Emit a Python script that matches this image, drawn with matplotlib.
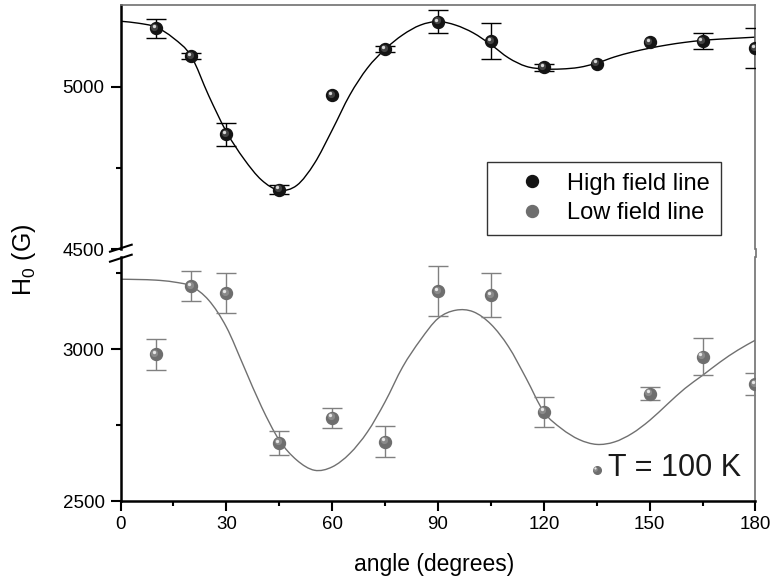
import matplotlib
matplotlib.use("Agg")
import matplotlib.pyplot as plt
import matplotlib.transforms as mtransforms
import numpy as np
from matplotlib.lines import Line2D
from matplotlib.path import Path
from matplotlib.patches import PathPatch

plt.rcParams['font.family'] = ['Liberation Sans', 'DejaVu Sans']
plt.rcParams['mathtext.default'] = 'regular'

# measured resonance fields (G) vs. field angle (degrees)
angles = [10, 20, 30, 45, 60, 75, 90, 105, 120, 135, 150, 165, 180]
high_field = [5180, 5095, 4854, 4684, 4974, 5116, 5200, 5140, 5060, 5071, 5137, 5141, 5119]
high_err = [29, 10, 35, 14, 0, 10, 35, 55, 10, 0, 0, 25, 62]
low_field = [2983, 3207, 3185, 2692, 2775, 2696, 3191, 3178, 2794, 2603, 2854, 2975, 2885]
low_err = [50, 49, 67, 40, 33, 51, 83, 72, 50, 0, 21, 61, 36]

# fitted angular dependence
fit_angles = [0, 5, 10, 15, 20, 25, 30, 35, 40, 45, 50, 55, 60, 65, 70, 75, 80, 85, 90,
              95, 100, 105, 110, 115, 120, 125, 130, 135, 140, 145, 150, 155, 160, 165,
              170, 175, 180]
high_fit = [5202, 5196, 5184, 5150, 5095, 4973, 4862, 4778, 4713, 4682, 4697, 4765, 4867,
            4975, 5058, 5116, 5160, 5190, 5201, 5190, 5166, 5130, 5089, 5063, 5055, 5055,
            5060, 5073, 5092, 5107, 5119, 5129, 5137, 5143, 5147, 5150, 5153]
low_fit = [3230, 3229, 3227, 3221, 3207, 3161, 3073, 2942, 2810, 2701, 2635, 2602, 2613,
           2657, 2728, 2827, 2942, 3030, 3101, 3128, 3123, 3082, 3008, 2904, 2794, 2739,
           2703, 2687, 2695, 2723, 2766, 2819, 2871, 2914, 2958, 2997, 3030]

W, H = 773, 584
fig = plt.figure(figsize=(W / 100, H / 100), dpi=100)


def fx(px):
    return px / W


def fy(py):
    return 1 - py / H


left, right = 120.5, 755.5
ax_hi = fig.add_axes([fx(left), fy(249.3), fx(right - left), (249.3 - 5.3) / H])
ax_lo = fig.add_axes([fx(left), fy(501.3), fx(right - left), (501.3 - 257) / H])

ax_hi.set_ylim(4500, 5251)
ax_lo.set_ylim(2500, 3303)
for ax in (ax_hi, ax_lo):
    ax.set_xlim(0, 180)
    ax.spines['left'].set_linewidth(1.8)
    ax.spines['right'].set_color('#707070')
    ax.spines['right'].set_linewidth(1.2)
    ax.tick_params(axis='both', which='major', direction='out', length=7.5, width=1.5,
                   labelsize=13.5, pad=4)
    ax.tick_params(axis='both', which='minor', direction='out', length=3.8, width=1.5)

ax_hi.spines['bottom'].set_visible(False)
ax_hi.spines['top'].set_color('#707070')
ax_hi.spines['top'].set_linewidth(1.2)
ax_hi.tick_params(axis='x', which='both', bottom=False, labelbottom=False)
ax_lo.spines['top'].set_visible(False)
ax_lo.spines['bottom'].set_linewidth(1.8)

ax_hi.set_yticks([4500, 5000])
ax_hi.set_yticks([4750], minor=True)
ax_lo.set_yticks([2500, 3000])
ax_lo.set_yticks([2750, 3250], minor=True)
ax_lo.set_xticks([0, 30, 60, 90, 120, 150, 180])
ax_lo.set_xticks([15, 45, 75, 105, 135, 165], minor=True)
ax_lo.tick_params(axis='x', which='major', pad=3)


def smooth_curve(ax, x, y, color):
    # Catmull-Rom segments through the fit samples, drawn as cubic Beziers
    p = np.column_stack([x, y]).astype(float)
    ext = np.vstack([2 * p[0] - p[1], p, 2 * p[-1] - p[-2]])
    verts, codes = [p[0]], [Path.MOVETO]
    for i in range(1, len(ext) - 2):
        p0, p1, p2, p3 = ext[i - 1], ext[i], ext[i + 1], ext[i + 2]
        verts += [p1 + (p2 - p0) / 6, p2 - (p3 - p1) / 6, p2]
        codes += [Path.CURVE4] * 3
    ax.add_patch(PathPatch(Path(verts, codes), facecolor='none', edgecolor=color,
                           lw=1.0, transform=ax.transData, zorder=2))


smooth_curve(ax_hi, fit_angles, high_fit, 'black')
smooth_curve(ax_lo, fit_angles, low_fit, '#707070')


def error_bars(ax, x, y, err, color):
    keep = [i for i, e in enumerate(err) if e > 0]
    ax.errorbar([x[i] for i in keep], [y[i] for i in keep], yerr=[err[i] for i in keep],
                fmt='none', ecolor=color, elinewidth=1.0, capsize=7, capthick=1.0,
                zorder=3)


error_bars(ax_hi, angles, high_field, high_err, 'black')
error_bars(ax_lo, angles, low_field, low_err, '#808080')


def spheres(ax, x, y, face, size):
    # shaded ball: dark body with a soft highlight toward the upper left
    ax.plot(x, y, 'o', ms=size, mfc=face, mec=face, zorder=4)
    shift = mtransforms.ScaledTranslation(-1.0 / 72, 1.0 / 72, fig.dpi_scale_trans)
    ax.plot(x, y, 'o', ms=size * 0.6, mfc='white', mec='none', alpha=0.2,
            transform=ax.transData + shift, zorder=5)
    shift2 = mtransforms.ScaledTranslation(-1.5 / 72, 1.7 / 72, fig.dpi_scale_trans)
    ax.plot(x, y, 'o', ms=size * 0.28, mfc='white', mec='none', alpha=0.8,
            transform=ax.transData + shift2, zorder=6)


spheres(ax_hi, angles, high_field, '#141414', 8.6)
i135 = angles.index(135)
lo_x = [a for i, a in enumerate(angles) if i != i135]
lo_y = [v for i, v in enumerate(low_field) if i != i135]
spheres(ax_lo, lo_x, lo_y, '#6e6e6e', 8.6)
spheres(ax_lo, [angles[i135]], [low_field[i135]], '#6e6e6e', 5.5)

ax_lo.text((608 - left) / (right - left), (501.3 - 468) / (501.3 - 257), 'T = 100 K',
           transform=ax_lo.transAxes, ha='left', va='center', fontsize=22, color='#1a1a1a')

# legend
handles = [Line2D([], [], ls='none', marker='o', ms=8.6, mfc='#141414', mec='#141414'),
           Line2D([], [], ls='none', marker='o', ms=8.6, mfc='#6e6e6e', mec='#6e6e6e')]
leg = ax_hi.legend(handles, ['High field line', 'Low field line'],
                   loc='upper left', bbox_to_anchor=((487 - left) / (right - left),
                                                     (249.3 - 162) / 244),
                   borderaxespad=0, fancybox=False, fontsize=17, handlelength=2.9,
                   handletextpad=0.05, borderpad=0.45, labelspacing=0.33, framealpha=1)
leg.get_frame().set_edgecolor('#333333')
leg.get_frame().set_linewidth(1.0)

# axis break marks on the left spine
for y0 in (251.7, 261.7):
    fig.add_artist(Line2D([fx(110), fx(131.7)], [fy(y0), fy(y0 - 7)],
                          transform=fig.transFigure, color='black', lw=1.5))
fig.add_artist(Line2D([fx(right), fx(right)], [fy(249.3), fy(257)],
                      transform=fig.transFigure, color='#707070', lw=1.2))

fig.text(fx(434), fy(565), 'angle (degrees)', ha='center', va='center', fontsize=16.5)
fig.text(fx(24), fy(260), 'H$_0$ (G)', ha='center', va='center', rotation=90, fontsize=18)

fig.savefig('out.png', dpi=100)
plt.close(fig)
